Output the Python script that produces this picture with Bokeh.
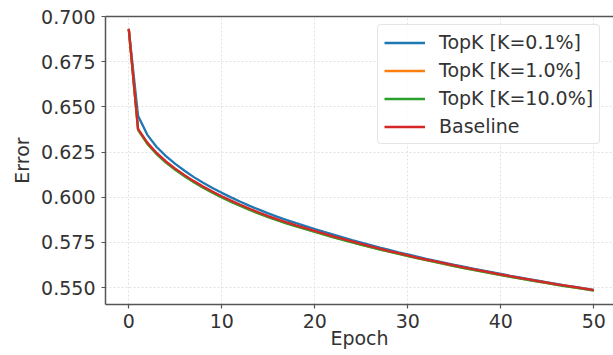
from bokeh.plotting import figure
from bokeh.models import Range1d, LinearAxis, FixedTicker, Legend, LegendItem, NumeralTickFormatter
from bokeh.embed import file_html
from bokeh.resources import INLINE

epochs = list(range(51))

topk_01 = [0.6932, 0.6450, 0.6345, 0.6278, 0.6227, 0.6184, 0.6146, 0.6111, 0.6080, 0.6051,
           0.6024, 0.5999, 0.5975, 0.5952, 0.5931, 0.5910, 0.5891, 0.5873, 0.5856, 0.5840,
           0.5824, 0.5808, 0.5793, 0.5778, 0.5763, 0.5749, 0.5735, 0.5721, 0.5708, 0.5695,
           0.5683, 0.5671, 0.5659, 0.5648, 0.5637, 0.5626, 0.5615, 0.5605, 0.5595, 0.5585,
           0.5575, 0.5565, 0.5556, 0.5547, 0.5538, 0.5529, 0.5520, 0.5511, 0.5503, 0.5495,
           0.5487]
topk_1 = [0.6930, 0.6374, 0.6297, 0.6240, 0.6193, 0.6153, 0.6117, 0.6084, 0.6054, 0.6026,
          0.6000, 0.5976, 0.5953, 0.5931, 0.5910, 0.5891, 0.5873, 0.5856, 0.5840, 0.5825,
          0.5809, 0.5794, 0.5779, 0.5765, 0.5751, 0.5737, 0.5724, 0.5711, 0.5699, 0.5687,
          0.5675, 0.5663, 0.5652, 0.5641, 0.5630, 0.5619, 0.5609, 0.5599, 0.5589, 0.5579,
          0.5570, 0.5560, 0.5551, 0.5542, 0.5533, 0.5525, 0.5516, 0.5508, 0.5500, 0.5492,
          0.5484]
topk_10 = [0.6931, 0.6372, 0.6295, 0.6238, 0.6191, 0.6151, 0.6115, 0.6082, 0.6052, 0.6024,
           0.5998, 0.5974, 0.5951, 0.5929, 0.5909, 0.5889, 0.5871, 0.5854, 0.5838, 0.5823,
           0.5808, 0.5793, 0.5778, 0.5764, 0.5750, 0.5736, 0.5723, 0.5710, 0.5698, 0.5686,
           0.5674, 0.5662, 0.5651, 0.5640, 0.5629, 0.5618, 0.5608, 0.5598, 0.5588, 0.5578,
           0.5569, 0.5559, 0.5550, 0.5541, 0.5532, 0.5524, 0.5515, 0.5507, 0.5499, 0.5491,
           0.5483]
baseline = [0.6932, 0.6378, 0.6302, 0.6245, 0.6198, 0.6158, 0.6122, 0.6089, 0.6059, 0.6031,
            0.6005, 0.5981, 0.5958, 0.5936, 0.5915, 0.5895, 0.5877, 0.5860, 0.5844, 0.5829,
            0.5813, 0.5798, 0.5783, 0.5769, 0.5755, 0.5741, 0.5728, 0.5715, 0.5702, 0.5690,
            0.5678, 0.5666, 0.5655, 0.5644, 0.5633, 0.5622, 0.5612, 0.5602, 0.5592, 0.5582,
            0.5572, 0.5563, 0.5554, 0.5545, 0.5536, 0.5527, 0.5518, 0.5510, 0.5502, 0.5494,
            0.5486]

series_labels = ["TopK [K=0.1%]", "TopK [K=1.0%]", "TopK [K=10.0%]", "Baseline"]
series_values = [topk_01, topk_1, topk_10, baseline]
series_colors = ["#1f77b4", "#ff7f0e", "#2ca02c", "#d62728"]

x_ticks = [0, 10, 20, 30, 40, 50]
y_ticks = [0.550, 0.575, 0.600, 0.625, 0.650, 0.675, 0.700]

FONT = "DejaVu Sans"
TXT = "#333333"
SPINE = "#555555"
FS = "19px"

p = figure(width=613, height=355, output_backend="svg", toolbar_location=None,
           x_range=Range1d(-2.5, 52.12), y_range=Range1d(0.5406, 0.700),
           min_border_left=105, min_border_right=0, min_border_top=16, min_border_bottom=51)
p.outline_line_color = None
p.background_fill_color = "white"
p.border_fill_color = "white"

renderers = []
for vals, col in zip(series_values, series_colors):
    r = p.line(epochs[:len(vals)], vals, line_color=col, line_width=2.3)
    renderers.append(r)

xa = p.xaxis[0]
xa.ticker = FixedTicker(ticks=x_ticks)
xa.axis_label = "Epoch"
ya = p.yaxis[0]
ya.ticker = FixedTicker(ticks=y_ticks)
ya.formatter = NumeralTickFormatter(format="0.000")
ya.axis_label = "Error"
for ax in (xa, ya):
    ax.axis_line_color = SPINE
    ax.axis_line_width = 1.5
    ax.major_tick_line_color = SPINE
    ax.major_tick_line_width = 1.2
    ax.major_tick_in = 0
    ax.major_tick_out = 4
    ax.minor_tick_line_color = None
    ax.major_label_text_font = FONT
    ax.major_label_text_font_size = FS
    ax.major_label_text_color = TXT
    ax.axis_label_text_font = FONT
    ax.axis_label_text_font_size = FS
    ax.axis_label_text_font_style = "normal"
    ax.axis_label_text_color = TXT
xa.major_label_standoff = 5
xa.axis_label_standoff = -4
ya.major_label_standoff = 6
ya.axis_label_standoff = 5

top = LinearAxis(ticker=FixedTicker(ticks=[]), axis_line_color=SPINE, axis_line_width=1.5,
                 major_tick_line_color=None, minor_tick_line_color=None,
                 major_label_text_font_size="0px")
p.add_layout(top, "above")

p.xgrid.ticker = FixedTicker(ticks=x_ticks)
p.ygrid.ticker = FixedTicker(ticks=y_ticks)
for g in (p.xgrid[0], p.ygrid[0]):
    g.grid_line_color = "#e2e2e2"
    g.grid_line_dash = "2 2"
    g.grid_line_width = 1

items = [LegendItem(label=lab, renderers=[r]) for lab, r in zip(series_labels, renderers)]
legend = Legend(items=items, location=(272, 160), margin=0, padding=6,
                glyph_width=41, glyph_height=21, label_height=21, spacing=6,
                label_standoff=14, label_text_font=FONT, label_text_font_size=FS,
                label_text_color=TXT, border_line_color="#cccccc", border_line_width=1,
                border_radius=4,
                background_fill_color="white", background_fill_alpha=0.85)
p.add_layout(legend)

open("out.html", "w").write(file_html(p, INLINE))
